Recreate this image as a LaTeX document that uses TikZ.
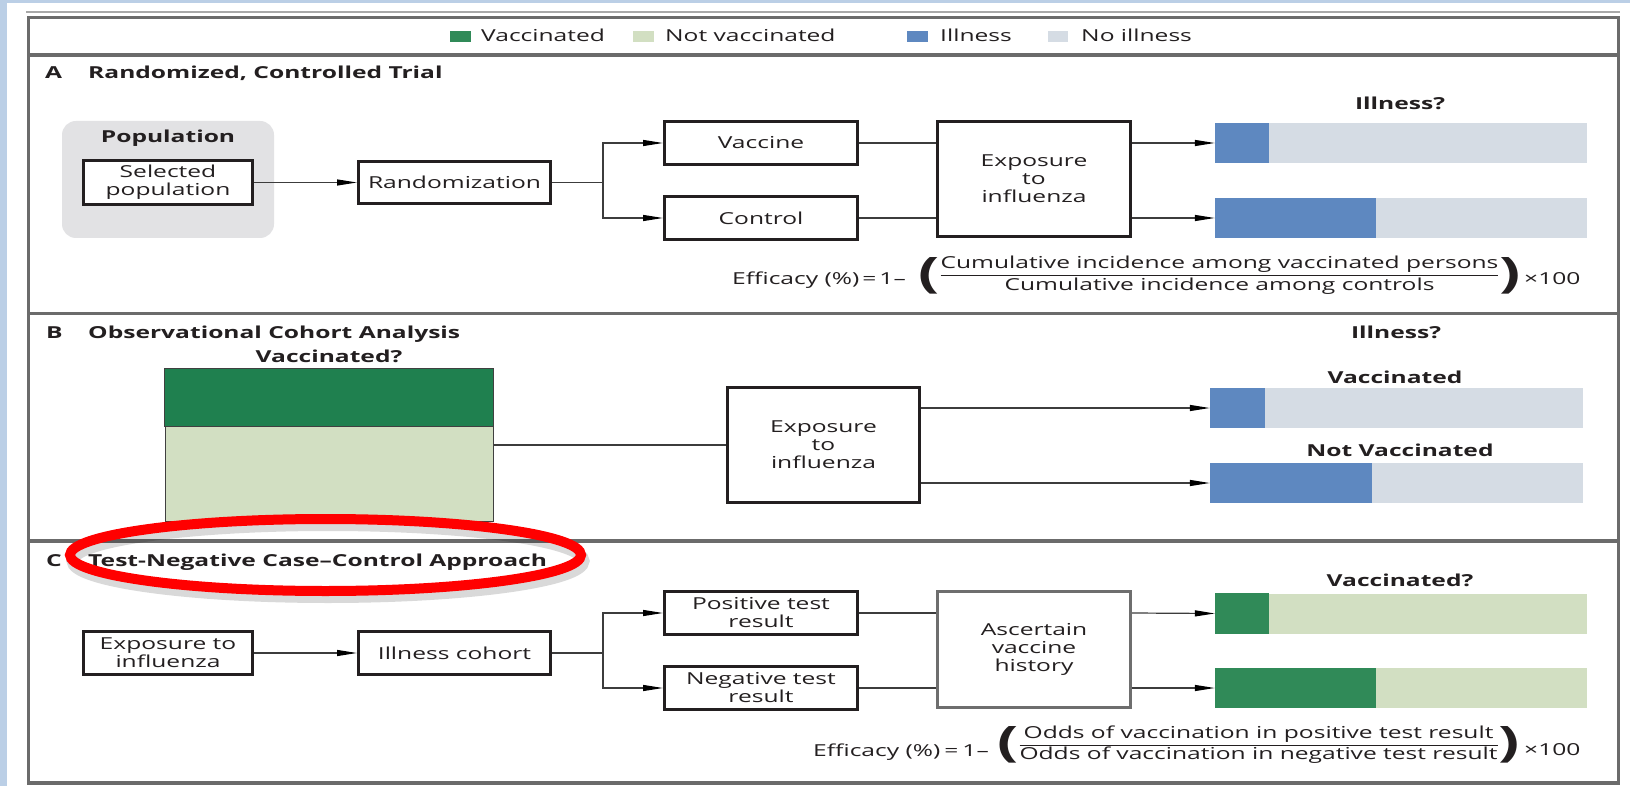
\documentclass[tikz,border=0pt]{standalone}
\usepackage{fontspec}
\setmainfont{Open Sans}[FakeStretch=1.49]
\usetikzlibrary{arrows.meta}
\definecolor{bgblue}{HTML}{BBCFE6}
\definecolor{framec}{HTML}{6B6B6B}
\definecolor{thinl}{HTML}{A8A8A8}
\definecolor{ill}{HTML}{5E88C0}
\definecolor{noill}{HTML}{D5DCE4}
\definecolor{vac}{HTML}{308A58}
\definecolor{vacdark}{HTML}{1F804F}
\definecolor{novac}{HTML}{D2DFC2}
\definecolor{popgray}{HTML}{E2E2E4}
\definecolor{ink}{HTML}{231F20}
\definecolor{lineg}{HTML}{3C3C3C}
\definecolor{ascg}{HTML}{6E6E6E}
\definecolor{cohl}{HTML}{404040}
\newcommand{\fs}{\fontsize{16.5}{18}\selectfont}
\newcommand{\fp}{\fontsize{42}{42}\selectfont\bfseries}
\newcommand{\fracrow}[2]{$\vcenter{\hbox{\fp(}}\kern1pt\vcenter{\hbox{\setlength{\arrayrulewidth}{1pt}\renewcommand{\arraystretch}{1.12}\begin{tabular}{@{}c@{}}#1\\\hline #2\end{tabular}}}\kern1pt\vcenter{\hbox{\fp)}}$}
\tikzset{
  txt/.style={inner sep=0pt, font=\fs, text=ink},
  lbl/.style={inner sep=0pt, font=\fs\bfseries, text=ink, anchor=base},
  ttl/.style={inner sep=0pt, font=\fs\bfseries, text=ink, anchor=base west},
  boxn/.style={draw=ink, line width=3pt, fill=white, inner sep=0pt, align=center, font=\fs, text=ink},
  barn/.style={fill=#1, draw=none, inner sep=0pt, minimum height=40pt},
  conn/.style={draw=lineg, line width=1.2pt},
  arr/.style={conn, -{Triangle[length=20pt,width=6pt,fill=black,color=black]}},
  framel/.style={draw=framec, line width=3.5pt},
}
\begin{document}
\begin{tikzpicture}[x=1pt,y=-1pt]
\useasboundingbox (0,0) rectangle (1630,786);
% background
\fill[white] (0,0) rectangle (1630,786);
\fill[bgblue] (0,0) rectangle (7,786);
\fill[bgblue] (0,0) rectangle (1630,3);
% frame
\draw[thinl, line width=1.5pt] (26,12) -- (1620,12);
\draw[framel] (28.5,17.5) rectangle (1618.5,783);
\draw[framel] (28.5,55) -- (1618.5,55);
\draw[framel] (28.5,313.5) -- (1618.5,313.5);
\draw[framel] (28.5,541) -- (1618.5,541);
% legend
\fill[vac] (450,31) rectangle (471,42);
\node[txt, anchor=base west] (lg1) at (481,42) {Vaccinated};
\fill[novac] (633,31) rectangle (654,42);
\node[txt, anchor=base west] (lg2) at (665,42) {Not vaccinated};
\fill[ill] (907,31) rectangle (928,42);
\node[txt, anchor=base west] (lg3) at (940,42) {Illness};
\fill[noill] (1048,31) rectangle (1068,42);
\node[txt, anchor=base west] (lg4) at (1081,42) {No illness};

% ---------- Panel A
\node[ttl] (tA) at (45,79) {A};
\node[ttl] (tA2) at (88,79) {Randomized, Controlled Trial};
\node[fill=popgray, rounded corners=14pt, minimum width=212pt, minimum height=117pt, inner sep=0pt] (pop) at (168,179.5) {};
\node[lbl] (poplbl) at (168,143) {Population};
\node[boxn, minimum width=169pt, minimum height=44pt] (sel) at (168,182.5) {Selected\\population};
\node[boxn, minimum width=192pt, minimum height=42pt] (rand) at (454.5,182.5) {Randomization};
\node[boxn, minimum width=193pt, minimum height=43pt] (vacc) at (761,143) {Vaccine};
\node[boxn, minimum width=193pt, minimum height=43pt] (ctrl) at (761,218) {Control};
\node[boxn, minimum width=193pt, minimum height=115pt] (expA) at (1034,179) {Exposure\\to\\influenza};
\node[barn=noill, minimum width=372pt] (barA1) at (1401,143) {};
\node[barn=noill, minimum width=372pt] (barA2) at (1401,218) {};
\fill[ill] (barA1.north west) rectangle ([xshift=54pt]barA1.south west);
\fill[ill] (barA2.north west) rectangle ([xshift=161pt]barA2.south west);
\node[lbl] (illA) at (1400,110) {Illness?};
\coordinate (splitA) at (603,182.5);
\draw[arr] (sel.east) -- (rand.west);
\draw[conn] (rand.east) -- (splitA);
\draw[arr] (splitA) |- (vacc.west);
\draw[arr] (splitA) |- (ctrl.west);
\draw[conn] (vacc.east) -- (vacc.east -| expA.west);
\draw[conn] (ctrl.east) -- (ctrl.east -| expA.west);
\draw[arr] (barA1.west -| expA.east) -- (barA1.west);
\draw[arr] (barA2.west -| expA.east) -- (barA2.west);
% formula A
\node[txt, anchor=base west] (effA) at (732,285) {Efficacy (\%)\hspace{3pt}=\hspace{3pt}1–};
\node[txt] (fracA) at (1219.5,275.5) {\fracrow{Cumulative incidence among vaccinated persons}{Cumulative incidence among controls}};
\node[txt, anchor=base west] (xA) at (1524,284) {×100};

% ---------- Panel B
\node[ttl] (tB) at (46,338) {B};
\node[ttl] (tB2) at (88,338) {Observational Cohort Analysis};
\node[lbl] (vqB) at (329,362) {Vaccinated?};
\node[draw=cohl, line width=1pt, fill=novac, minimum width=328pt, minimum height=152pt, inner sep=0pt] (cohB) at (329,445) {};
\filldraw[fill=vacdark, draw=cohl, line width=1pt] (cohB.north west) rectangle ([yshift=-58pt]cohB.north east);
\node[boxn, minimum width=192pt, minimum height=115pt] (expB) at (823.5,445) {Exposure\\to\\influenza};
\draw[conn] (cohB.east) -- (expB.west);
\node[barn=noill, minimum width=373pt] (barB1) at (1396.5,408) {};
\node[barn=noill, minimum width=373pt] (barB2) at (1396.5,483) {};
\fill[ill] (barB1.north west) rectangle ([xshift=55pt]barB1.south west);
\fill[ill] (barB2.north west) rectangle ([xshift=162pt]barB2.south west);
\draw[arr] (barB1.west -| expB.east) -- (barB1.west);
\draw[arr] (barB2.west -| expB.east) -- (barB2.west);
\node[lbl] (illB) at (1396,338) {Illness?};
\node[lbl] (vB) at (1395,383) {Vaccinated};
\node[lbl] (nvB) at (1400,456) {Not Vaccinated};

% ---------- Panel C
\node[ttl] (tC) at (46,566) {C};
\node[ttl] (tC2) at (88,566) {Test-Negative Case–Control Approach};
\node[boxn, minimum width=169pt, minimum height=43pt] (expC) at (168,653) {Exposure to\\influenza};
\node[boxn, minimum width=192pt, minimum height=43pt] (illc) at (454.5,653) {Illness cohort};
\node[boxn, minimum width=193pt, minimum height=43pt] (pos) at (761,613) {Positive test\\result};
\node[boxn, minimum width=193pt, minimum height=43pt] (neg) at (761,688) {Negative test\\result};
\node[boxn, draw=ascg, minimum width=193pt, minimum height=116pt] (asc) at (1034,649.5) {Ascertain\\vaccine\\history};
\node[barn=novac, minimum width=372pt] (barC1) at (1401,613.5) {};
\node[barn=novac, minimum width=372pt] (barC2) at (1401,688) {};
\fill[vac] (barC1.north west) rectangle ([xshift=54pt]barC1.south west);
\fill[vac] (barC2.north west) rectangle ([xshift=161pt]barC2.south west);
\node[lbl] (vqC) at (1400,586) {Vaccinated?};
\coordinate (splitC) at (603,653);
\draw[arr] (expC.east) -- (illc.west);
\draw[conn] (illc.east) -- (splitC);
\draw[arr] (splitC) |- (pos.west);
\draw[arr] (splitC) |- (neg.west);
\draw[conn] (pos.east) -- (pos.east -| asc.west);
\draw[conn] (neg.east) -- (neg.east -| asc.west);
\draw[arr] (pos.east -| asc.east) -- (barC1.west);
\draw[arr] (neg.east -| asc.east) -- (barC2.west);
% formula C
\node[txt, anchor=base west] (effC) at (813,756) {Efficacy (\%)\hspace{4pt}=\hspace{4pt}1–};
\node[txt] (fracC) at (1258.5,745) {\fracrow{Odds of vaccination in positive test result}{Odds of vaccination in negative test result}};
\node[txt, anchor=base west] (xC) at (1524,755) {×100};

% ---------- highlight ellipse
\draw[black, opacity=0.15, line width=12pt] (328,561) ellipse [x radius=255.5pt, y radius=36pt];
\draw[red, line width=10pt] (325.5,555) ellipse [x radius=255.5pt, y radius=36pt];
\end{tikzpicture}
\end{document}
